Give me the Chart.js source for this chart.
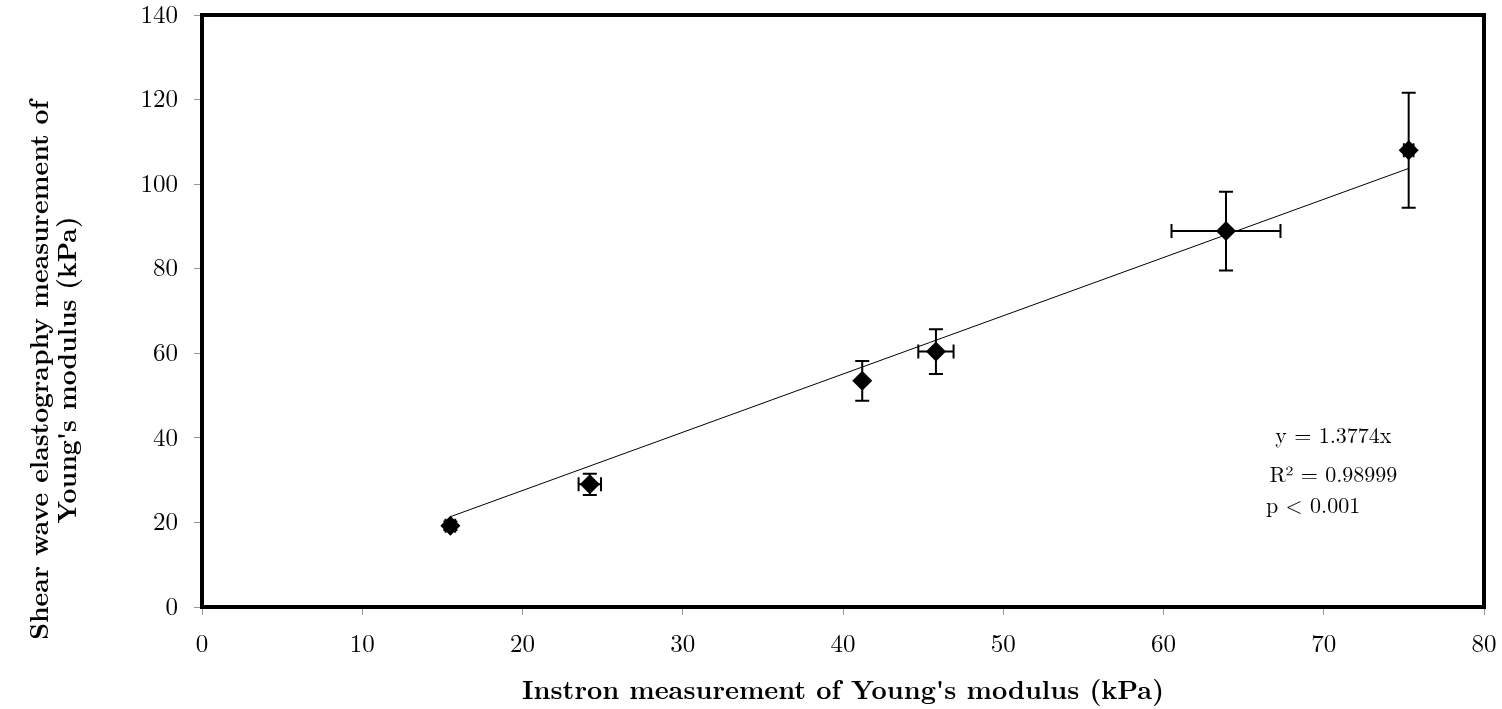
<!DOCTYPE html>
<html>
<head>
<meta charset="utf-8">
<script src="https://cdn.jsdelivr.net/npm/chart.js@4.4.1/dist/chart.umd.min.js"></script>
<style>
html, body { margin: 0; padding: 0; background: #fff; }
</style>
</head>
<body>
<canvas id="modulusChart" width="1502" height="709"></canvas>
<script>
// values
var instronKPa = [15.5, 24.2, 41.2, 45.8, 63.9, 75.3];
var instronErr = [0.3, 0.7, 0, 1.1, 3.4, 0.3];
var shearWaveKPa = [19.2, 29.0, 53.5, 60.4, 88.9, 108.0];
var shearWaveErr = [1.0, 2.5, 4.7, 5.3, 9.3, 13.6];
var trendSlope = 1.3774;
var trendRange = [15.5, 75.3];
var xTickValues = [0, 10, 20, 30, 40, 50, 60, 70, 80];
var yTickValues = [0, 20, 40, 60, 80, 100, 120, 140];
var statLines = ["y = 1.3774x", "R\u00b2 = 0.98999", "p < 0.001"];
var xTitle = "Instron measurement of Young's modulus (kPa)";
var yTitle = ["Shear wave elastography measurement of", "Young's modulus (kPa)"];

var serif = '"Latin Modern Roman", "CMU Serif", "DejaVu Serif", serif';

var points = instronKPa.map(function (x, i) { return { x: x, y: shearWaveKPa[i] }; });
var trend = trendRange.map(function (x) { return { x: x, y: trendSlope * x }; });

var errorBars = {
    id: "errorBars",
    beforeDatasetsDraw: function (chart) {
        var ctx = chart.ctx, xs = chart.scales.x, ys = chart.scales.y, cap = 7;
        ctx.save();
        ctx.strokeStyle = "#000";
        ctx.lineWidth = 2;
        for (var i = 0; i < instronKPa.length; i++) {
            var px = xs.getPixelForValue(instronKPa[i]);
            var py = ys.getPixelForValue(shearWaveKPa[i]);
            var top = ys.getPixelForValue(shearWaveKPa[i] + shearWaveErr[i]);
            var bot = ys.getPixelForValue(shearWaveKPa[i] - shearWaveErr[i]);
            ctx.beginPath();
            ctx.moveTo(px, top); ctx.lineTo(px, bot);
            ctx.moveTo(px - cap, top); ctx.lineTo(px + cap, top);
            ctx.moveTo(px - cap, bot); ctx.lineTo(px + cap, bot);
            if (instronErr[i] > 0) {
                var l = xs.getPixelForValue(instronKPa[i] - instronErr[i]);
                var r = xs.getPixelForValue(instronKPa[i] + instronErr[i]);
                ctx.moveTo(l, py); ctx.lineTo(r, py);
                ctx.moveTo(l, py - cap); ctx.lineTo(l, py + cap);
                ctx.moveTo(r, py - cap); ctx.lineTo(r, py + cap);
            }
            ctx.stroke();
        }
        ctx.restore();
    }
};

var frameAndText = {
    id: "frameAndText",
    afterDraw: function (chart) {
        var ctx = chart.ctx, a = chart.chartArea, xs = chart.scales.x, ys = chart.scales.y;
        ctx.save();
        ctx.strokeStyle = "#000";
        ctx.lineWidth = 4;
        ctx.strokeRect(a.left, a.top, a.right - a.left, a.bottom - a.top);

        // regression stats
        ctx.fillStyle = "#000";
        ctx.font = "22px " + serif;
        ctx.textBaseline = "middle";
        ctx.textAlign = "center";
        ctx.fillText(statLines[0], xs.getPixelForValue(70.6), ys.getPixelForValue(40.3));
        ctx.fillText(statLines[1], xs.getPixelForValue(70.6), ys.getPixelForValue(31.1));
        ctx.textAlign = "left";
        ctx.fillText(statLines[2], xs.getPixelForValue(66.4), ys.getPixelForValue(23.8));

        // y axis title, two lines
        ctx.font = "bold 26px " + serif;
        ctx.textAlign = "center";
        ctx.translate(40, 370);
        ctx.rotate(-Math.PI / 2);
        ctx.fillText(yTitle[0], 0, 0);
        ctx.fillText(yTitle[1], 0, 28);
        ctx.restore();
    }
};

var chart = new Chart(document.getElementById("modulusChart"), {
    type: "scatter",
    data: {
        datasets: [
            {
                label: "trend",
                type: "line",
                data: trend,
                borderColor: "#000",
                borderWidth: 1,
                pointRadius: 0,
                fill: false
            },
            {
                label: "measurements",
                data: points,
                pointStyle: "rectRot",
                pointRadius: 10,
                pointBackgroundColor: "#000",
                pointBorderColor: "#000",
                pointBorderWidth: 0
            }
        ]
    },
    options: {
        responsive: false,
        animation: false,
        devicePixelRatio: 1,
        layout: { padding: 0 },
        plugins: { legend: { display: false }, tooltip: { enabled: false } },
        scales: {
            x: {
                type: "linear",
                min: 0,
                max: 80,
                afterBuildTicks: function (s) { s.ticks = xTickValues.map(function (v) { return { value: v }; }); },
                afterFit: function (s) { s.height = 102; s.paddingLeft = 0; s.paddingRight = 18; },
                grid: { display: true, drawOnChartArea: false, drawTicks: true, tickLength: 8, color: "#999" },
                border: { display: false },
                ticks: { color: "#000", padding: 14, maxRotation: 0, font: { family: serif, size: 25 } },
                title: {
                    display: true,
                    text: xTitle,
                    color: "#000",
                    padding: { top: 0, bottom: 2 },
                    font: { family: serif, size: 26.5, weight: "bold" }
                }
            },
            y: {
                type: "linear",
                min: 0,
                max: 140,
                afterBuildTicks: function (s) { s.ticks = yTickValues.map(function (v) { return { value: v }; }); },
                afterFit: function (s) { s.width = 202; s.paddingTop = 15; s.paddingBottom = 0; },
                grid: { display: true, drawOnChartArea: false, drawTicks: true, tickLength: 8, color: "#999" },
                border: { display: false },
                ticks: { color: "#000", padding: 16, font: { family: serif, size: 25 } }
            }
        }
    },
    plugins: [errorBars, frameAndText]
});
</script>
</body>
</html>
